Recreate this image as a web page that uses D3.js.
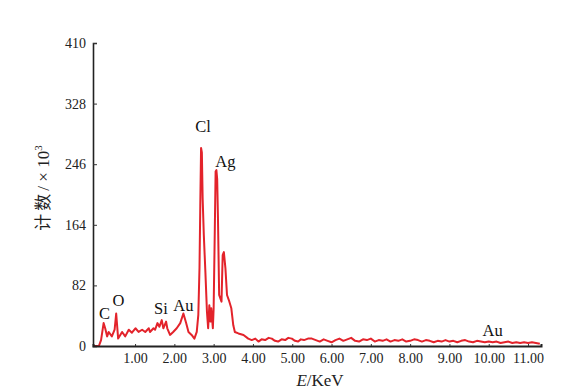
<!DOCTYPE html>
<html>
<head>
<meta charset="utf-8">
<script src="https://cdn.jsdelivr.net/npm/d3@7/dist/d3.min.js"></script>
<style>
    html, body { margin: 0; padding: 0; background: #fff; }
    svg { display: block; }
</style>
</head>
<body>
<div id="chart"></div>
<script>
// EDS spectrum
const energy = [
    -0.05, 0.08, 0.135, 0.20, 0.24, 0.29, 0.33, 0.41, 0.48, 0.52, 0.57, 0.67, 0.75, 0.84, 0.92,
    1.01, 1.09, 1.18, 1.26, 1.35, 1.38, 1.47, 1.51, 1.57, 1.62, 1.68, 1.72, 1.79, 1.82, 1.89, 1.97,
    2.06, 2.15, 2.23, 2.30, 2.36, 2.44, 2.51, 2.57, 2.61, 2.64, 2.66, 2.68, 2.70, 2.72, 2.75, 2.79, 2.83, 2.86,
    2.89, 2.92, 2.94, 2.98, 3.00, 3.03, 3.05, 3.07, 3.09, 3.11, 3.14, 3.20, 3.23, 3.26, 3.30, 3.34, 3.40,
    3.45, 3.50, 3.54, 3.63, 3.76, 3.88, 3.97, 4.06, 4.14, 4.22, 4.31, 4.40, 4.48, 4.56, 4.64, 4.73,
    4.82, 4.90, 4.99, 5.07, 5.15, 5.22, 5.30, 5.40, 5.50,
    5.6, 5.7, 5.8, 5.9, 6.0, 6.1, 6.2, 6.3, 6.4, 6.5, 6.6, 6.7, 6.8, 6.9, 7.0, 7.1, 7.2, 7.3, 7.4,
    7.5, 7.6, 7.7, 7.8, 7.9, 8.0, 8.1, 8.2, 8.3, 8.4, 8.5, 8.6, 8.7, 8.8, 8.9, 9.0, 9.1, 9.2, 9.3,
    9.4, 9.5, 9.6, 9.7, 9.8, 9.9, 10.0, 10.1, 10.2, 10.3, 10.4, 10.5, 10.6, 10.7, 10.8, 10.9, 11.0,
    11.1, 11.2, 11.3
];
const counts = [
    0, 0, 8, 31, 24, 13, 19, 13, 22, 44, 10, 19, 13, 22, 18,
    24, 19, 22, 19, 24, 19, 24, 22, 31, 26, 35, 24, 33, 24, 15, 19,
    24, 31, 44, 31, 19, 15, 10, 19, 42, 106, 190, 268, 262, 200, 150, 100, 46, 24,
    55, 33, 51, 24, 51, 159, 236, 238, 226, 173, 69, 60, 123, 127, 105, 69, 60,
    51, 28, 19, 17, 15, 10, 8, 10, 6, 9, 8, 11, 10, 7, 6, 9,
    8, 11, 10, 7, 6, 9, 8, 10, 10,
    8, 6, 9, 7, 5, 8, 10, 7, 9, 11, 7, 6, 9, 8, 10, 6, 8, 7, 9,
    6, 8, 7, 9, 6, 7, 9, 8, 6, 8, 7, 5, 7, 6, 8, 6, 7, 5, 7,
    8, 6, 5, 7, 6, 5, 6, 5, 6, 4, 5, 6, 4, 5, 4, 5, 4,
    5, 4, 3
];

const yTicks = [0, 82, 164, 246, 328, 410];
const xTicks = [1, 2, 3, 4, 5, 6, 7, 8, 9, 10, 11];

// peak labels: element, energy, count
const peakNames  = ['C', 'O', 'Si', 'Au', 'Cl', 'Ag', 'Au'];
const peakEnergy = [0.22, 0.58, 1.66, 2.23, 2.73, 3.30, 10.1];
const peakCount  = [37, 54, 43, 47, 290, 242, 13];

const W = 579, H = 391;
const SERIF = '"Liberation Serif", "Times New Roman", "Noto Sans CJK SC", serif';

const svg = d3.select('#chart')
    .append('svg')
    .attr('width', W)
    .attr('height', H);

const x = d3.scaleLinear().domain([-0.07, 11.33]).range([93, 541]);
const y = d3.scaleLinear().domain([0, 410]).range([346, 43]);

// spectrum
const line = d3.line()
    .x(i => x(energy[i]))
    .y(i => y(counts[i]));

svg.append('path')
    .datum(d3.range(energy.length))
    .attr('d', line)
    .attr('fill', 'none')
    .attr('stroke', '#e3232b')
    .attr('stroke-width', 2)
    .attr('stroke-linejoin', 'round');

// y axis
const yAxis = svg.append('g')
    .attr('transform', `translate(${x.range()[0]},0)`)
    .call(d3.axisLeft(y).tickValues(yTicks).tickSize(-4).tickPadding(7));
yAxis.select('.domain').attr('stroke', '#222').attr('stroke-width', 1.6);
yAxis.selectAll('.tick line').attr('stroke', '#333');
yAxis.selectAll('text')
    .attr('font-family', SERIF)
    .attr('font-size', 14)
    .attr('fill', '#222');

// x axis
const xAxis = svg.append('g')
    .attr('transform', `translate(0,${y.range()[0]})`)
    .call(d3.axisBottom(x).tickValues(xTicks).tickFormat(d3.format('.2f')).tickSize(-2).tickPadding(7));
xAxis.select('.domain').attr('stroke', '#222').attr('stroke-width', 2);
xAxis.selectAll('.tick line').attr('stroke', '#333');
xAxis.selectAll('text')
    .attr('font-family', SERIF)
    .attr('font-size', 14)
    .attr('fill', '#222');

// peak labels
svg.append('g').selectAll('text')
    .data(peakNames)
    .join('text')
    .attr('x', (d, i) => x(peakEnergy[i]))
    .attr('y', (d, i) => y(peakCount[i]))
    .attr('text-anchor', 'middle')
    .attr('font-family', SERIF)
    .attr('font-size', 16.5)
    .attr('fill', '#111')
    .text(d => d);

// axis titles
svg.append('text')
    .attr('transform', 'translate(49,188) rotate(-90)')
    .attr('text-anchor', 'middle')
    .attr('font-family', SERIF)
    .attr('font-size', 17)
    .attr('fill', '#222')
    .call(t => {
        t.append('tspan').attr('letter-spacing', 3).text('计数');
        t.append('tspan').text('/ × 10');
        t.append('tspan').attr('dy', -7).attr('font-size', 11).text('3');
    });

svg.append('text')
    .attr('x', 320)
    .attr('y', 386)
    .attr('text-anchor', 'middle')
    .attr('font-family', SERIF)
    .attr('font-size', 17)
    .attr('fill', '#222')
    .call(t => {
        t.append('tspan').attr('font-style', 'italic').text('E');
        t.append('tspan').text('/KeV');
    });
</script>
</body>
</html>
